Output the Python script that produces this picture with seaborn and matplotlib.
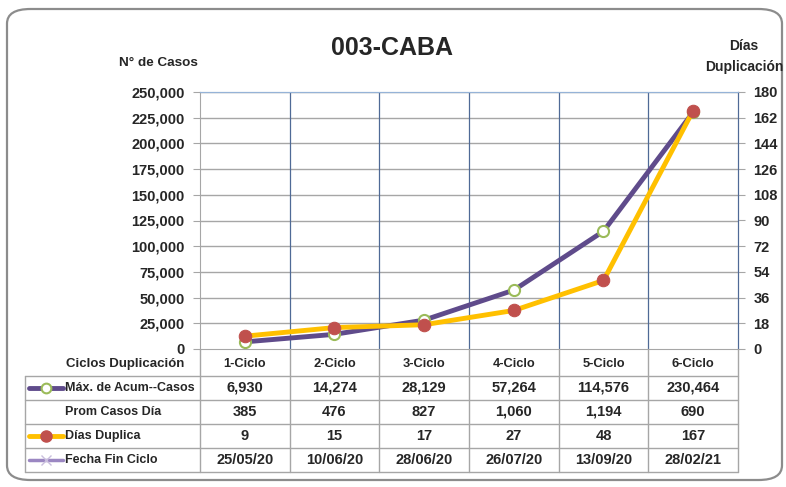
import pandas as pd
import matplotlib.pyplot as plt
import seaborn as sns
from matplotlib.patches import FancyBboxPatch
from matplotlib.lines import Line2D

ciclos = ['1-Ciclo', '2-Ciclo', '3-Ciclo', '4-Ciclo', '5-Ciclo', '6-Ciclo']
max_casos = [6930, 14274, 28129, 57264, 114576, 230464]
prom_casos = [385, 476, 827, 1060, 1194, 690]
dias_duplica = [9, 15, 17, 27, 48, 167]
fecha_fin = ['25/05/20', '10/06/20', '28/06/20', '26/07/20', '13/09/20', '28/02/21']

df = pd.DataFrame({'ciclo': ciclos, 'x': range(len(ciclos)),
                   'casos': max_casos, 'dias': dias_duplica})

sns.set_style('white')
plt.rcParams['font.family'] = ['Liberation Sans', 'DejaVu Sans']
plt.rcParams['font.weight'] = 'bold'

purple = '#5F4B8B'
yellow = '#FFC000'
red = '#C0504D'
green = '#9BBB59'
lilac = '#9B87C2'
gridc = '#A6A6A6'
bluec = '#4F6A96'

W, H = 786, 487
fig = plt.figure(figsize=(7.86, 4.87), dpi=100)

def fx(px):
    return px / W

def fy(py):
    return 1 - py / H

# rounded outer frame
frame = FancyBboxPatch((fx(7), fy(480)), fx(775), fy(9) - fy(480),
                       boxstyle='round,pad=0,rounding_size=0.03',
                       transform=fig.transFigure, fill=False,
                       edgecolor='#8C8C8C', linewidth=1.6)
fig.patches.append(frame)

x0, x1, ytop, ybot = 200, 738, 92, 349
ax = fig.add_axes([fx(x0), fy(ybot), fx(x1 - x0), fy(ytop) - fy(ybot)])
ax2 = ax.twinx()

sns.lineplot(data=df, x='x', y='casos', ax=ax, color=purple, linewidth=3.5,
             marker='o', markersize=8, markerfacecolor='white',
             markeredgecolor=green, markeredgewidth=1.5, zorder=3)
sns.lineplot(data=df, x='x', y='dias', ax=ax2, color=yellow, linewidth=3.5,
             marker='o', markersize=9, markerfacecolor=red,
             markeredgecolor=red, zorder=4)

fs = 9        # row names
fv = 10.5     # values and ticks
ax.set_xlim(-0.5, len(ciclos) - 0.5)
ax.set_ylim(0, 250000)
ax2.set_ylim(0, 180)
ax.set_yticks(range(0, 250001, 25000))
ax.set_yticklabels([f'{v:,}' for v in range(0, 250001, 25000)], fontsize=fv, fontweight='bold')
ax2.set_yticks(range(0, 181, 18))
ax2.set_yticklabels([str(v) for v in range(0, 181, 18)], fontsize=fv, fontweight='bold')
ax.set_xticks([])
ax.set_xlabel('')
ax.set_ylabel('')
ax2.set_ylabel('')
ax.tick_params(axis='y', length=5, color=gridc, pad=6, left=True)
ax2.tick_params(axis='y', length=5, color=gridc, pad=6, right=True)

for v in range(25000, 250001, 25000):
    ax.axhline(v, color=gridc, linewidth=1, zorder=1)
for i in range(1, len(ciclos)):
    ax.axvline(i - 0.5, color=bluec, linewidth=0.9, zorder=1)

for a in (ax, ax2):
    a.spines['top'].set_color('#95B3D7')
    a.spines['left'].set_color(gridc)
    a.spines['right'].set_color(bluec)
    a.spines['bottom'].set_color(gridc)
    a.patch.set_visible(False)
ax2.spines['left'].set_visible(False)
ax2.spines['bottom'].set_visible(False)

fig.text(fx(392), fy(48), '003-CABA', ha='center', va='center', fontsize=18, fontweight='bold')
fig.text(fx(158), fy(63), 'N° de Casos', ha='center', va='center', fontsize=9.7, fontweight='bold')
fig.text(fx(744), fy(46), 'Días', ha='center', va='center', fontsize=10, fontweight='bold')
fig.text(fx(744), fy(67), 'Duplicación', ha='center', va='center', fontsize=10, fontweight='bold')

# data table below the chart, drawn in pixel coordinates
tb = fig.add_axes([0, 0, 1, 1], facecolor='none')
tb.set_xlim(0, W)
tb.set_ylim(H, 0)
tb.axis('off')

col_w = (x1 - x0) / len(ciclos)
row_y = [376, 400, 424, 448, 472]
line_kw = dict(color=gridc, linewidth=1)

for i in range(len(ciclos) + 1):
    xx = x0 + i * col_w
    tb.plot([xx, xx], [ybot, row_y[-1]], **line_kw)
tb.plot([25, 25], [row_y[0], row_y[-1]], **line_kw)
for yy in row_y:
    tb.plot([25, x1], [yy, yy], **line_kw)

tb.text(66, 364, 'Ciclos Duplicación', ha='left', va='center', fontsize=9.5, fontweight='bold')
rows = [
    [f'{v:,}' for v in max_casos],
    [f'{v:,}' for v in prom_casos],
    [str(v) for v in dias_duplica],
    fecha_fin,
]
names = ['Máx. de Acum--Casos', 'Prom Casos Día', 'Días Duplica', 'Fecha Fin Ciclo']
for i, c in enumerate(ciclos):
    tb.text(x0 + (i + 0.5) * col_w, 364, c, ha='center', va='center', fontsize=fs + 0.3, fontweight='bold')
for r, (name, vals) in enumerate(zip(names, rows)):
    yc = (row_y[r] + row_y[r + 1]) / 2
    tb.text(65, yc, name, ha='left', va='center', fontsize=fs, fontweight='bold')
    for i, v in enumerate(vals):
        tb.text(x0 + (i + 0.5) * col_w, yc, v, ha='center', va='center', fontsize=fv, fontweight='bold')

# legend keys in the table
keys = [
    dict(color=purple, lw=3.5, marker='o', ms=7, mfc='white', mec=green, mew=1.5),
    None,
    dict(color=yellow, lw=3.5, marker='o', ms=8, mfc=red, mec=red),
    dict(color=lilac, lw=2.5, marker='x', ms=7, mec='#C9BEDD', mew=1),
]
for r, k in enumerate(keys):
    if k is None:
        continue
    yc = (row_y[r] + row_y[r + 1]) / 2
    tb.add_line(Line2D([29, 63], [yc, yc], color=k['color'], linewidth=k['lw']))
    tb.add_line(Line2D([46], [yc], linestyle='none', marker=k['marker'], markersize=k['ms'],
                       markerfacecolor=k.get('mfc', 'none'), markeredgecolor=k['mec'],
                       markeredgewidth=k.get('mew', 1)))

fig.savefig('out.png', dpi=100)
